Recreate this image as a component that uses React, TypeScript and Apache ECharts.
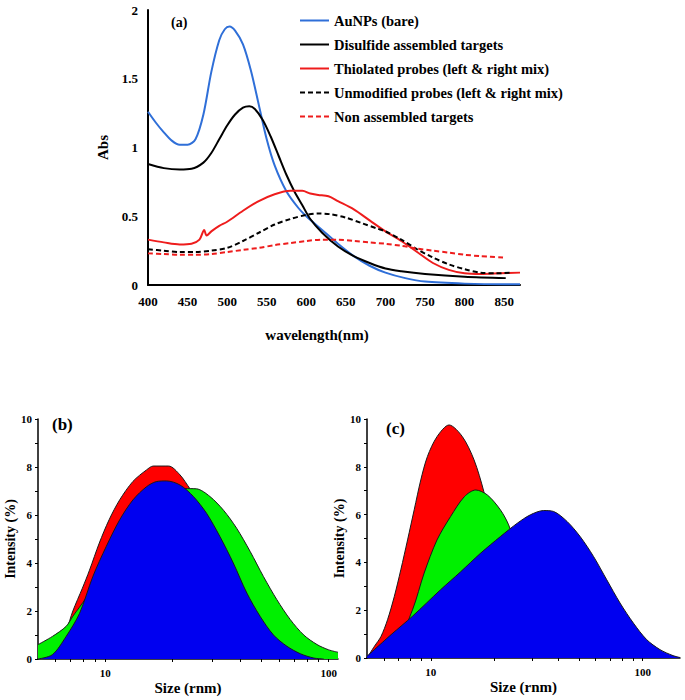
import React, { useEffect, useRef } from "react";
import * as echarts from "echarts";

// ---------- Panel (a): UV-Vis spectra ----------
const wlAuNP = [400, 410, 420, 430, 440, 450, 460, 470, 480, 490, 497, 503, 510, 520, 530, 540, 550, 560, 575, 590, 600, 620, 640, 660, 680, 700, 725, 750, 800, 850, 870];
const absAuNP = [1.26, 1.18, 1.11, 1.05, 1.02, 1.02, 1.06, 1.24, 1.55, 1.78, 1.86, 1.88, 1.85, 1.75, 1.56, 1.31, 1.06, 0.87, 0.68, 0.56, 0.5, 0.4, 0.3, 0.21, 0.14, 0.09, 0.05, 0.025, 0.01, 0.005, 0.005];

const wlDisulfide = [400, 420, 440, 455, 470, 480, 490, 500, 510, 520, 528, 535, 545, 555, 565, 575, 585, 595, 605, 620, 640, 660, 680, 700, 720, 750, 800, 852];
const absDisulfide = [0.88, 0.85, 0.84, 0.845, 0.89, 0.96, 1.06, 1.16, 1.24, 1.29, 1.3, 1.28, 1.2, 1.08, 0.94, 0.8, 0.68, 0.58, 0.48, 0.38, 0.28, 0.21, 0.16, 0.12, 0.1, 0.08, 0.06, 0.05];

const wlThiolated = [400, 420, 440, 455, 465, 471, 474, 480, 490, 500, 520, 540, 560, 580, 595, 605, 615, 628, 640, 660, 680, 700, 720, 740, 760, 780, 800, 820, 845, 870];
const absThiolated = [0.33, 0.31, 0.295, 0.3, 0.33, 0.4, 0.36, 0.39, 0.43, 0.46, 0.54, 0.61, 0.66, 0.685, 0.685, 0.665, 0.655, 0.645, 0.61, 0.55, 0.47, 0.39, 0.32, 0.24, 0.16, 0.11, 0.085, 0.08, 0.085, 0.09];

const wlUnmodified = [400, 420, 440, 460, 480, 500, 520, 540, 560, 580, 600, 615, 630, 650, 670, 690, 700, 720, 740, 760, 780, 800, 820, 840, 858];
const absUnmodified = [0.26, 0.25, 0.24, 0.24, 0.25, 0.27, 0.32, 0.38, 0.44, 0.48, 0.51, 0.52, 0.515, 0.49, 0.45, 0.41, 0.39, 0.33, 0.26, 0.2, 0.15, 0.115, 0.09, 0.085, 0.09];

const wlNonAssembled = [400, 420, 440, 460, 480, 500, 520, 540, 560, 580, 600, 620, 640, 660, 680, 700, 720, 740, 760, 780, 800, 820, 850];
const absNonAssembled = [0.23, 0.225, 0.22, 0.22, 0.225, 0.24, 0.255, 0.27, 0.29, 0.305, 0.32, 0.33, 0.33, 0.32, 0.31, 0.3, 0.285, 0.265, 0.25, 0.235, 0.22, 0.21, 0.2];

const legendNames = [
  "AuNPs (bare)",
  "Disulfide assembled targets",
  "Thiolated probes (left & right mix)",
  "Unmodified probes (left & right mix)",
  "Non assembled targets",
];

// ---------- Panel (b): DLS ----------
const sizeBRed = [5, 6, 6.7, 7.16, 7.9, 8.5, 9.4, 10.4, 11.6, 13.3, 15.3, 16.4, 19.2, 21.6, 23.9, 28, 33, 40, 50, 60, 75, 90];
const intBRed = [0, 0.3, 1.2, 2.0, 2.95, 3.7, 4.83, 5.8, 6.63, 7.4, 7.88, 8.04, 8.04, 7.67, 7.1, 6.2, 5.0, 3.5, 2.0, 1.0, 0.3, 0];

const sizeBGreen = [5, 5.8, 6.68, 7.16, 8.2, 10, 13, 17, 20, 22.7, 25.6, 29.4, 33.8, 38.7, 44.5, 51, 58.6, 67.3, 77.3, 88.7, 100, 110];
const intBGreen = [0.6, 0.94, 1.36, 1.78, 2.54, 3.8, 5.5, 6.6, 7.0, 7.1, 7.09, 6.77, 6.2, 5.45, 4.48, 3.44, 2.47, 1.64, 1.0, 0.6, 0.38, 0.28];

const sizeBBlue = [5, 5.8, 6.68, 7.67, 8.8, 10.1, 11.6, 13.3, 15.3, 16.9, 18.8, 21.6, 24.8, 28.4, 32.6, 37.4, 43, 49.3, 56.6, 65, 74.6, 85.7, 95];
const intBBlue = [0, 0.18, 0.94, 1.9, 3.44, 4.69, 5.8, 6.63, 7.18, 7.39, 7.42, 7.25, 6.77, 6.07, 5.1, 4.0, 2.75, 1.78, 1.0, 0.53, 0.22, 0.04, 0];

// ---------- Panel (c): DLS ----------
const sizeCRed = [5, 5.42, 5.82, 6.25, 6.73, 7.22, 7.77, 8.35, 8.97, 9.64, 10.7, 12.2, 14.1, 16.0, 17.8, 20, 25, 30, 40, 50];
const intCRed = [0, 0.49, 0.9, 1.6, 2.58, 3.69, 4.94, 6.2, 7.45, 8.43, 9.26, 9.75, 9.26, 8.29, 6.96, 5.0, 2.5, 1.0, 0.2, 0];

const sizeCGreen = [5, 7, 8.2, 9.3, 10.7, 12.4, 14.4, 16.3, 18.5, 21.3, 23.3, 27, 32, 40, 50, 60];
const intCGreen = [0, 0.8, 2.02, 3.55, 4.94, 5.92, 6.75, 7.03, 6.82, 6.2, 5.57, 4.0, 2.5, 1.0, 0.3, 0];

const sizeCBlue = [5, 6.5, 8.2, 11.1, 13.8, 17.2, 21.3, 25.6, 29.5, 34.1, 38, 44, 50.7, 58.6, 67.7, 78.2, 90.4, 104.4, 120.7, 139, 150];
const intCBlue = [0.07, 0.98, 1.75, 2.85, 3.6, 4.39, 5.08, 5.64, 5.99, 6.17, 6.13, 5.71, 5.08, 4.25, 3.27, 2.3, 1.46, 0.77, 0.35, 0.1, 0.02];

const xTickB = [6, 7, 8, 9, 10, 20, 30, 40, 50, 60, 70, 80, 90, 100];
const xTickC = [6, 7, 8, 9, 10, 20, 30, 40, 50, 60, 70, 80, 90, 100];
const xLabelLog = [10, 100];

const FONT = "Liberation Serif";
const pairs = (xs: number[], ys: number[]) => xs.map((x, i) => [x, ys[i]]);

export default function App() {
  const ref = useRef<HTMLDivElement>(null);
  useEffect(() => {
    if (!ref.current) return;
    const chart = echarts.init(ref.current, null, { renderer: "svg" });

    const lineSeries = (name: string, xs: number[], ys: number[], color: string, dashed: boolean) => ({
      name,
      type: "line",
      xAxisIndex: 0,
      yAxisIndex: 0,
      data: pairs(xs, ys),
      showSymbol: false,
      symbol: "none",
      smooth: 0.3,
      lineStyle: { color, width: 2, type: dashed ? [5, 3] : "solid" },
      itemStyle: { color },
    });

    const areaSeries = (idx: number, xs: number[], ys: number[], color: string, z: number) => ({
      type: "line",
      xAxisIndex: idx,
      yAxisIndex: idx,
      z,
      data: pairs(xs, ys),
      showSymbol: false,
      symbol: "none",
      smooth: 0.3,
      lineStyle: { color: "#1a1a1a", width: 1 },
      areaStyle: { color, opacity: 1 },
    });

    const logX = (idx: number, max: number, ticks: number[]) => ({
      type: "log",
      logBase: 10,
      gridIndex: idx,
      min: 5,
      max,
      axisLine: { show: true, lineStyle: { color: "#000", width: 1.5 } },
      axisTick: { show: true, length: 3, customValues: ticks, lineStyle: { color: "#000" } },
      minorTick: { show: false },
      splitLine: { show: false },
      axisLabel: {
        customValues: xLabelLog,
        color: "#000",
        fontFamily: FONT,
        fontWeight: "bold",
        fontSize: 11,
        margin: 8,
      },
      name: "Size (rnm)",
      nameLocation: "middle",
      nameGap: 21,
      nameTextStyle: { color: "#000", fontFamily: FONT, fontWeight: "bold", fontSize: 15 },
    });

    const intY = (idx: number, nameGap: number) => ({
      type: "value",
      gridIndex: idx,
      min: 0,
      max: 10,
      interval: 2,
      axisLine: { show: true, lineStyle: { color: "#000", width: 1.5 } },
      axisTick: { show: true, length: 3, lineStyle: { color: "#000" } },
      minorTick: { show: true, splitNumber: 2, length: 3, lineStyle: { color: "#000" } },
      splitLine: { show: false },
      axisLabel: { color: "#000", fontFamily: FONT, fontWeight: "bold", fontSize: 11, margin: 6 },
      name: "Intensity (%)",
      nameLocation: "middle",
      nameGap,
      nameTextStyle: { color: "#000", fontFamily: FONT, fontWeight: "bold", fontSize: 14 },
    });

    chart.setOption({
      animation: false,
      backgroundColor: "#fff",
      legend: {
        data: legendNames,
        orient: "vertical",
        left: 294,
        top: 8,
        itemWidth: 29,
        itemHeight: 10,
        itemGap: 9,
        itemStyle: { opacity: 0 },
        textStyle: { color: "#000", fontFamily: FONT, fontWeight: "bold", fontSize: 14.5 },
      },
      grid: [
        { left: 148, top: 10, width: 372, height: 275 },
        { left: 38, top: 419, width: 300, height: 240 },
        { left: 367, top: 419, width: 313, height: 239 },
      ],
      xAxis: [
        {
          type: "value",
          gridIndex: 0,
          min: 400,
          max: 870,
          interval: 50,
          axisLine: { show: true, lineStyle: { color: "#000", width: 2 } },
          axisTick: { show: false },
          splitLine: { show: false },
          axisLabel: {
            showMaxLabel: false,
            color: "#000",
            fontFamily: FONT,
            fontWeight: "bold",
            fontSize: 13,
            margin: 10,
          },
          name: "wavelength(nm)",
          nameLocation: "middle",
          nameGap: 42,
          nameTextStyle: { color: "#000", fontFamily: FONT, fontWeight: "bold", fontSize: 15, padding: [0, 34, 0, 0] },
        },
        logX(1, 110, xTickB),
        logX(2, 150, xTickC),
      ],
      yAxis: [
        {
          type: "value",
          gridIndex: 0,
          min: 0,
          max: 2,
          interval: 0.5,
          axisLine: { show: true, lineStyle: { color: "#000", width: 2 } },
          axisTick: { show: false },
          splitLine: { show: false },
          axisLabel: { color: "#000", fontFamily: FONT, fontWeight: "bold", fontSize: 13, margin: 10 },
          name: "Abs",
          nameLocation: "middle",
          nameGap: 33,
          nameTextStyle: { color: "#000", fontFamily: FONT, fontWeight: "bold", fontSize: 15 },
        },
        intY(1, 20),
        intY(2, 16),
      ],
      graphic: [
        { type: "text", left: 171, top: 15, style: { text: "(a)", fill: "#000", font: `bold 14px "${FONT}"` } },
        { type: "text", left: 52, top: 416, style: { text: "(b)", fill: "#000", font: `bold 17px "${FONT}"` } },
        { type: "text", left: 386, top: 420, style: { text: "(c)", fill: "#000", font: `bold 17px "${FONT}"` } },
      ],
      series: [
        lineSeries(legendNames[0], wlAuNP, absAuNP, "#2f6fd8", false),
        lineSeries(legendNames[1], wlDisulfide, absDisulfide, "#000000", false),
        lineSeries(legendNames[2], wlThiolated, absThiolated, "#ee1c1c", false),
        lineSeries(legendNames[3], wlUnmodified, absUnmodified, "#000000", true),
        lineSeries(legendNames[4], wlNonAssembled, absNonAssembled, "#ee1c1c", true),
        areaSeries(1, sizeBRed, intBRed, "#ff0000", 2),
        areaSeries(1, sizeBGreen, intBGreen, "#00f000", 3),
        areaSeries(1, sizeBBlue, intBBlue, "#0000f0", 4),
        areaSeries(2, sizeCRed, intCRed, "#ff0000", 2),
        areaSeries(2, sizeCGreen, intCGreen, "#00f000", 3),
        areaSeries(2, sizeCBlue, intCBlue, "#0000f0", 4),
      ],
    });
    return () => chart.dispose();
  }, []);
  return (
    <div
      ref={ref}
      style={{ position: "fixed", left: 0, top: 0, width: 685, height: 700, background: "#fff" }}
    />
  );
}
